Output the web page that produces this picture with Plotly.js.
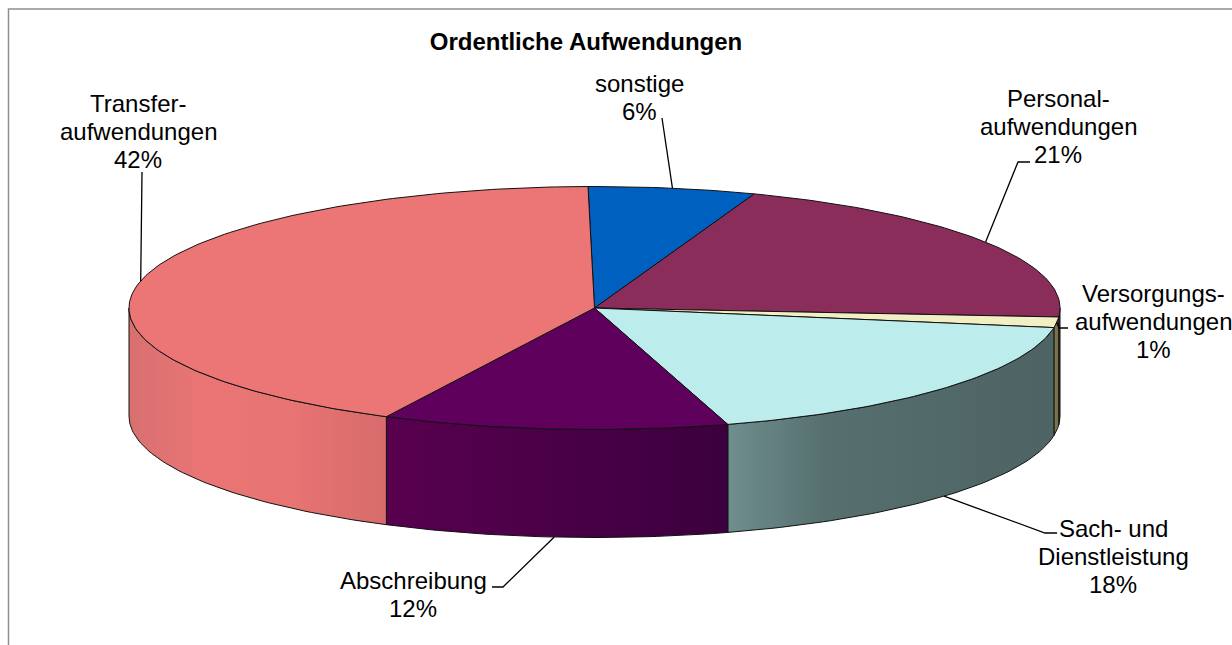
<!DOCTYPE html>
<html><head><meta charset="utf-8">
<script src="https://cdn.plot.ly/plotly-3.0.1.min.js"></script>
<style>html,body{margin:0;padding:0;background:#fff;}#chart{width:1232px;height:645px;}</style>
</head><body><div id="chart"></div>
<script>
// ---- data ----
const categories = ["sonstige","Personalaufwendungen","Versorgungsaufwendungen","Sach- und Dienstleistung","Abschreibung","Transferaufwendungen"];
const labelLines = [["sonstige"],["Personal-","aufwendungen"],["Versorgungs-","aufwendungen"],["Sach- und","Dienstleistung"],["Abschreibung"],["Transfer-","aufwendungen"]];
const values = [5.8, 20.6, 1.4, 17.8, 12.0, 42.4];
const chartTitle = "Ordentliche Aufwendungen";

// ---- style / layout ----
const topColors = ["#0060C0","#8B2D5B","#F3EFC4","#BCECEC","#5E005C","#EC7676"];
const sideScales = [
  [[0,"#003F80"],[1,"#003070"]],
  [[0,"#5E1E3E"],[1,"#5E1E3E"]],
  [[0,"#7D7A52"],[1,"#6E6B48"]],
  [[0,"#6F8E8E"],[0.3,"#566F6F"],[1,"#4E6363"]],
  [[0,"#58004F"],[1,"#3C003E"]],
  [[0,"#D87070"],[0.3,"#EB7575"],[0.65,"#E77373"],[1,"#D76B6B"]]
];
const geom = {cx:594.5, cy:308, rx:465.5, ry:121.5, depth:108, startDeg:-0.8};
const labelPos = [
  {x:639, y:83, from:[662,118]},
  {x:1058, y:98, from:[1030,162], elbow:[1018,162]},
  {x:1153, y:293, from:[1068,328], elbow:[1059,328]},
  {x:1113, y:528, from:[1057,533], elbow:[1045,533]},
  {x:413, y:580, from:[492,587], elbow:[503,587]},
  {x:138, y:103, from:[142,172]}
];
const lineGap = 28;
const FONT = "Liberation Sans, Arial, sans-serif";

function pt(deg, dy) {
  const r = deg * Math.PI / 180;
  return [geom.cx + geom.rx * Math.sin(r), geom.cy - geom.ry * Math.cos(r) + (dy || 0)];
}
function arc(a, b, dy) {
  const n = Math.max(2, Math.ceil(Math.abs(b - a)));
  const out = [];
  for (let i = 0; i <= n; i++) out.push(pt(a + (b - a) * i / n, dy));
  return out;
}

const total = values.reduce((s, v) => s + v, 0);
const sides = [], tops = [], leaders = [], annotations = [];
let a0 = geom.startDeg;
values.forEach((v, i) => {
  const a1 = a0 + v / total * 360;
  // top face
  const tp = [[geom.cx, geom.cy]].concat(arc(a0, a1, 0)).concat([[geom.cx, geom.cy]]);
  tops.push({
    type: "scatter", mode: "lines", fill: "toself", name: categories[i],
    x: tp.map(p => p[0]), y: tp.map(p => p[1]),
    fillcolor: topColors[i], line: {color: "#111", width: 1}, hoverinfo: "skip"
  });
  // front side face
  const lo = Math.max(a0, 90), hi = Math.min(a1, 270);
  if (lo < hi) {
    const sp = arc(lo, hi, 0).concat(arc(hi, lo, geom.depth));
    sp.push(sp[0]);
    sides.push({
      type: "scatter", mode: "lines", fill: "toself", name: categories[i] + " side",
      x: sp.map(p => p[0]), y: sp.map(p => p[1]),
      fillcolor: sideScales[i][0][1],
      fillgradient: {type: "horizontal", colorscale: sideScales[i]},
      line: {color: "#111", width: 1}, hoverinfo: "skip"
    });
  }
  // leader line
  const mid = (a0 + a1) / 2;
  const front = Math.cos(mid * Math.PI / 180) < -0.3;
  const end = pt(mid, front ? geom.depth : 0);
  const lp = labelPos[i];
  const pts = [lp.from].concat(lp.elbow ? [lp.elbow] : []).concat([end]);
  leaders.push({
    type: "scatter", mode: "lines", x: pts.map(p => p[0]), y: pts.map(p => p[1]),
    line: {color: "#000", width: 1.3}, hoverinfo: "skip"
  });
  // labels
  const lines = labelLines[i].concat([Math.round(v / total * 100) + "%"]);
  lines.forEach((t, k) => {
    annotations.push({
      x: lp.x, y: lp.y + k * lineGap, xref: "x", yref: "y", text: t, showarrow: false,
      xanchor: "center", yanchor: "middle",
      font: {family: FONT, size: 24, color: "#000"}
    });
  });
  a0 = a1;
});

const layout = {
  width: 1232, height: 645,
  margin: {l: 0, r: 0, t: 0, b: 0, pad: 0},
  paper_bgcolor: "#fff", plot_bgcolor: "#fff",
  showlegend: false,
  title: {text: chartTitle, x: 586 / 1232, xref: "paper", xanchor: "center",
          y: 1 - 42 / 645, yref: "paper", yanchor: "middle",
          font: {family: FONT, size: 24, color: "#000", weight: 700}},
  xaxis: {range: [0, 1232], visible: false, fixedrange: true},
  yaxis: {range: [645, 0], visible: false, fixedrange: true},
  shapes: [{type: "rect", xref: "x", yref: "y", x0: 8.5, y0: 9, x1: 1250, y1: 660,
            line: {color: "#8f8f8f", width: 1.5}}],
  annotations: annotations
};

Plotly.newPlot("chart", sides.concat(tops).concat(leaders), layout, {staticPlot: true, displayModeBar: false});
</script>
</body></html>
